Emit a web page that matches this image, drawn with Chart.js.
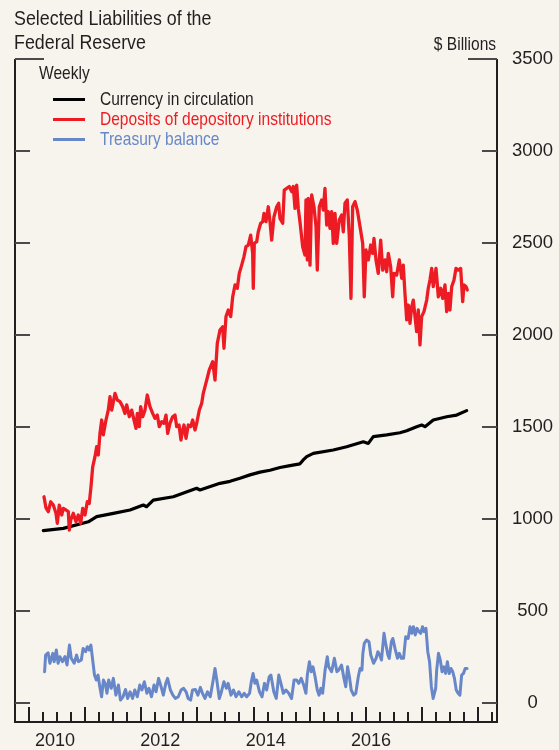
<!DOCTYPE html>
<html><head><meta charset="utf-8">
<script src="https://cdn.jsdelivr.net/npm/chart.js@4/dist/chart.umd.min.js"></script>
<style>
html,body{margin:0;padding:0;background:#f7f4ed;}
#wrap{position:relative;width:559px;height:750px;overflow:hidden;background:#f7f4ed;}
canvas{position:absolute;left:0;top:0;}
.t{position:absolute;font-family:"Liberation Sans",Arimo,Arial,sans-serif;color:#231f20;white-space:nowrap;line-height:1;transform:scaleX(0.84);transform-origin:0 0;}
.r{transform-origin:100% 0;}
.sw{position:absolute;height:3px;width:32px;left:53px;}
</style></head><body>
<div id="wrap">
<canvas id="c" width="559" height="750"></canvas>
<div class="t" id="title1" style="left:14px;top:7px;font-size:21px;transform:scaleX(0.85);"></div>
<div class="t" id="title2" style="left:14px;top:30.5px;font-size:21px;transform:scaleX(0.85);"></div>
<div class="t r" id="unit" style="right:63px;top:35px;font-size:18.5px;"></div>
<div class="t" id="freq" style="left:39px;top:63.5px;font-size:18.5px;"></div>
<div class="sw" id="sw0" style="top:98px;"></div>
<div class="sw" id="sw1" style="top:117.5px;"></div>
<div class="sw" id="sw2" style="top:137.5px;"></div>
<div class="t" id="lg0" style="left:100px;top:89.5px;font-size:18.5px;"></div>
<div class="t" id="lg1" style="left:100px;top:109.5px;font-size:18.5px;"></div>
<div class="t" id="lg2" style="left:100px;top:129.5px;font-size:18.5px;"></div>
</div>
<script>
const titleLines = ["Selected Liabilities of the", "Federal Reserve"];
const unitLabel = "$ Billions";
const frequencyLabel = "Weekly";
const seriesNames = ["Currency in circulation", "Deposits of depository institutions", "Treasury balance"];
const seriesColors = ["#000000", "#ed1c24", "#6787c8"];
const yTicks = [0, 500, 1000, 1500, 2000, 2500, 3000, 3500];
const yearLabels = [2010, 2012, 2014, 2016];

const currencyX = [2010.250,2010.607,2011.053,2011.202,2011.499,2011.797,2012.034,2012.094,2012.212,2012.569,2012.986,2013.045,2013.402,2013.581,2013.759,2013.937,2014.116,2014.294,2014.472,2014.651,2014.829,2014.883,2014.949,2015.067,2015.423,2015.662,2015.959,2016.048,2016.137,2016.376,2016.613,2016.733,2016.911,2017.000,2017.059,2017.207,2017.446,2017.625,2017.803];
const currencyY = [937,949,985,1013,1031,1049,1076,1067,1103,1121,1167,1158,1194,1205,1222,1240,1255,1265,1280,1290,1300,1320,1339,1357,1375,1393,1420,1411,1448,1457,1469,1480,1502,1511,1502,1538,1556,1565,1589];

const depositsX = [2010.262,2010.298,2010.339,2010.382,2010.428,2010.476,2010.500,2010.535,2010.578,2010.607,2010.655,2010.696,2010.714,2010.739,2010.785,2010.833,2010.874,2010.917,2010.953,2010.994,2011.035,2011.070,2011.101,2011.131,2011.172,2011.202,2011.231,2011.261,2011.292,2011.320,2011.368,2011.409,2011.440,2011.470,2011.529,2011.570,2011.618,2011.666,2011.707,2011.738,2011.784,2011.827,2011.868,2011.904,2011.927,2011.962,2011.987,2012.023,2012.064,2012.105,2012.153,2012.201,2012.242,2012.284,2012.319,2012.362,2012.403,2012.439,2012.469,2012.510,2012.558,2012.599,2012.630,2012.671,2012.706,2012.737,2012.760,2012.796,2012.837,2012.879,2012.915,2012.956,2012.986,2013.033,2013.076,2013.104,2013.165,2013.211,2013.272,2013.313,2013.354,2013.402,2013.450,2013.473,2013.509,2013.550,2013.593,2013.629,2013.670,2013.711,2013.746,2013.789,2013.830,2013.866,2013.907,2013.950,2013.985,2013.996,2014.014,2014.057,2014.085,2014.128,2014.164,2014.187,2014.223,2014.264,2014.294,2014.324,2014.365,2014.414,2014.449,2014.472,2014.521,2014.549,2014.592,2014.638,2014.681,2014.710,2014.740,2014.770,2014.799,2014.829,2014.877,2014.918,2014.936,2014.960,2014.977,2015.008,2015.038,2015.079,2015.115,2015.138,2015.174,2015.216,2015.245,2015.275,2015.306,2015.334,2015.364,2015.395,2015.423,2015.454,2015.484,2015.530,2015.573,2015.602,2015.632,2015.673,2015.709,2015.739,2015.769,2015.811,2015.852,2015.900,2015.948,2015.976,2016.007,2016.048,2016.091,2016.126,2016.149,2016.185,2016.226,2016.269,2016.305,2016.346,2016.376,2016.405,2016.447,2016.483,2016.506,2016.554,2016.601,2016.644,2016.672,2016.702,2016.733,2016.761,2016.792,2016.822,2016.851,2016.881,2016.911,2016.940,2016.970,2017.000,2017.041,2017.090,2017.118,2017.148,2017.179,2017.207,2017.256,2017.297,2017.339,2017.375,2017.416,2017.446,2017.475,2017.505,2017.536,2017.577,2017.612,2017.653,2017.696,2017.732,2017.755,2017.790,2017.814];
const depositsY = [1121,1060,1040,1094,1076,1031,977,1076,1022,1058,1049,1040,940,995,1031,985,1022,977,1058,1022,1094,1085,1176,1284,1339,1393,1348,1466,1538,1457,1538,1592,1665,1592,1683,1647,1638,1611,1574,1620,1556,1592,1538,1493,1574,1502,1611,1556,1592,1674,1611,1574,1547,1565,1502,1529,1520,1565,1466,1520,1556,1565,1502,1511,1429,1484,1511,1439,1511,1502,1538,1484,1520,1592,1629,1683,1755,1810,1855,1755,1955,2027,2045,1928,2100,2136,2100,2208,2272,2254,2335,2380,2426,2480,2489,2543,2444,2254,2498,2507,2561,2607,2616,2661,2616,2697,2616,2516,2643,2697,2716,2634,2607,2788,2797,2807,2779,2807,2688,2815,2688,2616,2480,2435,2734,2408,2743,2380,2761,2697,2589,2353,2697,2734,2679,2797,2598,2670,2580,2670,2498,2661,2498,2625,2652,2561,2716,2734,2534,2199,2697,2725,2679,2589,2498,2208,2462,2408,2489,2444,2525,2408,2335,2516,2353,2408,2344,2444,2371,2208,2335,2326,2408,2308,2380,2226,2082,2163,2063,2154,2190,2100,2018,2136,1946,2100,2127,2190,2254,2299,2362,2263,2362,2208,2254,2199,2272,2127,2226,2136,2263,2299,2362,2353,2362,2181,2272,2263,2245];

const treasuryX = [2010.273,2010.291,2010.335,2010.368,2010.419,2010.444,2010.482,2010.514,2010.546,2010.591,2010.635,2010.673,2010.717,2010.749,2010.801,2010.844,2010.876,2010.928,2010.960,2011.004,2011.035,2011.067,2011.099,2011.131,2011.163,2011.195,2011.226,2011.258,2011.290,2011.322,2011.354,2011.386,2011.416,2011.461,2011.500,2011.545,2011.590,2011.627,2011.672,2011.716,2011.754,2011.798,2011.843,2011.882,2011.927,2011.971,2012.009,2012.053,2012.098,2012.135,2012.180,2012.225,2012.262,2012.307,2012.351,2012.391,2012.435,2012.467,2012.517,2012.562,2012.606,2012.658,2012.708,2012.753,2012.797,2012.835,2012.879,2012.912,2012.963,2013.008,2013.052,2013.090,2013.134,2013.179,2013.229,2013.281,2013.313,2013.345,2013.390,2013.420,2013.472,2013.516,2013.548,2013.598,2013.643,2013.688,2013.739,2013.789,2013.834,2013.878,2013.930,2013.961,2013.993,2014.025,2014.057,2014.107,2014.152,2014.196,2014.235,2014.280,2014.310,2014.362,2014.406,2014.451,2014.489,2014.533,2014.578,2014.629,2014.679,2014.724,2014.769,2014.808,2014.851,2014.895,2014.935,2014.960,2014.997,2015.029,2015.061,2015.093,2015.138,2015.170,2015.202,2015.233,2015.277,2015.316,2015.341,2015.393,2015.443,2015.488,2015.520,2015.570,2015.614,2015.646,2015.678,2015.711,2015.743,2015.787,2015.825,2015.869,2015.901,2015.934,2015.951,2015.976,2016.016,2016.060,2016.092,2016.142,2016.187,2016.219,2016.251,2016.283,2016.328,2016.358,2016.397,2016.422,2016.460,2016.486,2016.524,2016.569,2016.601,2016.638,2016.677,2016.715,2016.759,2016.792,2016.824,2016.854,2016.886,2016.918,2016.951,2016.983,2017.015,2017.045,2017.077,2017.109,2017.141,2017.173,2017.205,2017.250,2017.268,2017.300,2017.332,2017.364,2017.396,2017.427,2017.459,2017.491,2017.523,2017.555,2017.585,2017.617,2017.650,2017.682,2017.713,2017.746,2017.776,2017.809];
const treasuryY = [170,261,273,216,270,225,288,216,252,225,252,207,315,243,216,261,225,234,297,279,306,288,315,234,152,125,152,89,34,125,107,53,125,80,134,43,98,16,34,74,25,61,25,71,34,98,71,116,53,80,34,98,61,134,89,43,107,134,71,43,25,34,71,80,61,25,16,71,74,43,85,53,25,61,34,125,188,125,25,53,116,80,107,43,71,34,61,34,53,34,53,116,161,107,125,61,34,107,71,143,152,61,25,152,107,53,71,53,25,125,125,107,134,98,53,152,225,170,197,152,71,43,80,53,179,252,197,170,243,170,179,207,134,89,197,143,71,43,53,143,188,179,270,324,342,333,261,216,243,279,261,234,379,324,261,243,333,351,297,243,270,243,243,360,351,415,379,415,370,406,388,379,415,388,406,279,225,89,25,80,179,270,234,170,197,161,225,161,188,170,134,71,53,43,152,161,188,188];

// axis ranges (value space)
const X_MIN = 2009.745, X_MAX = 2018.344;
const XL_MIN = 2009.241, XL_MAX = 2018.392;
const Y_MIN = -103, Y_MAX = 3500;

const NUMFONT = '"Liberation Sans", Arimo, Arial, sans-serif';

document.getElementById('title1').textContent = titleLines[0];
document.getElementById('title2').textContent = titleLines[1];
document.getElementById('unit').textContent = unitLabel;
document.getElementById('freq').textContent = frequencyLabel;
seriesNames.forEach((n, i) => {
  const el = document.getElementById('lg' + i);
  el.textContent = n; el.style.color = i === 0 ? '#231f20' : seriesColors[i];
  document.getElementById('sw' + i).style.background = seriesColors[i];
});

const xy = (xs, ys) => xs.map((x, i) => ({x, y: ys[i]}));

const framePlugin = {
  id: 'frame',
  afterDatasetsDraw(chart) {
    const {ctx, chartArea: a, scales} = chart;
    const x = scales.x, y = scales.y;
    ctx.save();
    ctx.lineCap = 'butt';
    ctx.strokeStyle = '#231f20';
    ctx.lineWidth = 2;
    ctx.beginPath();
    ctx.moveTo(a.left, a.top); ctx.lineTo(a.left, a.bottom + 1);
    ctx.moveTo(a.right, a.top); ctx.lineTo(a.right, a.bottom + 1);
    ctx.moveTo(a.left - 1, a.bottom); ctx.lineTo(a.right + 1, a.bottom);
    ctx.stroke();
    // y ticks (inward, both sides)
    ctx.strokeStyle = '#4a4a4a';
    ctx.beginPath();
    yTicks.forEach(v => {
      const py = Math.round(y.getPixelForValue(v));
      const len = v === Y_MAX ? 29 : 15;
      ctx.moveTo(a.left, py); ctx.lineTo(a.left + len, py);
      ctx.moveTo(a.right, py); ctx.lineTo(a.right - len, py);
    });
    ctx.stroke();
    // x ticks: quarterly, taller at each year
    ctx.strokeStyle = '#231f20';
    ctx.beginPath();
    for (let q = Math.ceil(X_MIN * 4); q / 4 < X_MAX - 0.05; q++) {
      const px = Math.round(x.getPixelForValue(q / 4));
      if (px <= a.left + 2) continue;
      const len = q % 4 === 0 ? 15 : 10;
      ctx.moveTo(px, a.bottom); ctx.lineTo(px, a.bottom - len);
    }
    ctx.stroke();
    ctx.restore();
  }
};

const chart = new Chart(document.getElementById('c').getContext('2d'), {
  type: 'line',
  data: {
    datasets: [
      {label: seriesNames[1], data: xy(depositsX, depositsY), borderColor: seriesColors[1], borderWidth: 3.3, order: 0, xAxisID: 'x', yAxisID: 'y'},
      {label: seriesNames[0], data: xy(currencyX, currencyY), borderColor: seriesColors[0], borderWidth: 3.2, order: 1, xAxisID: 'x', yAxisID: 'y'},
      {label: seriesNames[2], data: xy(treasuryX, treasuryY), borderColor: seriesColors[2], borderWidth: 3, order: 2, xAxisID: 'x', yAxisID: 'y'}
    ]
  },
  options: {
    responsive: false,
    animation: false,
    devicePixelRatio: 1,
    layout: {padding: {left: 15, top: 59, right: 0, bottom: 0}},
    elements: {point: {radius: 0}, line: {tension: 0, borderJoinStyle: 'round', borderCapStyle: 'round', fill: false}},
    plugins: {legend: {display: false}, tooltip: {enabled: false}, title: {display: false}},
    scales: {
      x: {type: 'linear', min: X_MIN, max: X_MAX, display: false},
      xl: {
        type: 'linear', position: 'bottom', min: XL_MIN, max: XL_MAX,
        afterBuildTicks: s => { s.ticks = yearLabels.map(v => ({value: v})); },
        afterFit: s => { s.height = 28; },
        grid: {display: false, drawTicks: false}, border: {display: false},
        ticks: {font: {family: NUMFONT, size: 18}, color: '#231f20', padding: 8, maxRotation: 0, autoSkip: false, callback: v => String(v)}
      },
      y: {
        type: 'linear', position: 'right', min: Y_MIN, max: Y_MAX,
        afterBuildTicks: s => { s.ticks = yTicks.map(v => ({value: v})); },
        afterFit: s => { s.width = 62; },
        grid: {display: false, drawTicks: false}, border: {display: false},
        ticks: {font: {family: NUMFONT, size: 18.5}, color: '#231f20', crossAlign: 'center', padding: 15, autoSkip: false, callback: v => String(v)}
      }
    }
  },
  plugins: [framePlugin]
});
</script>
</body></html>
